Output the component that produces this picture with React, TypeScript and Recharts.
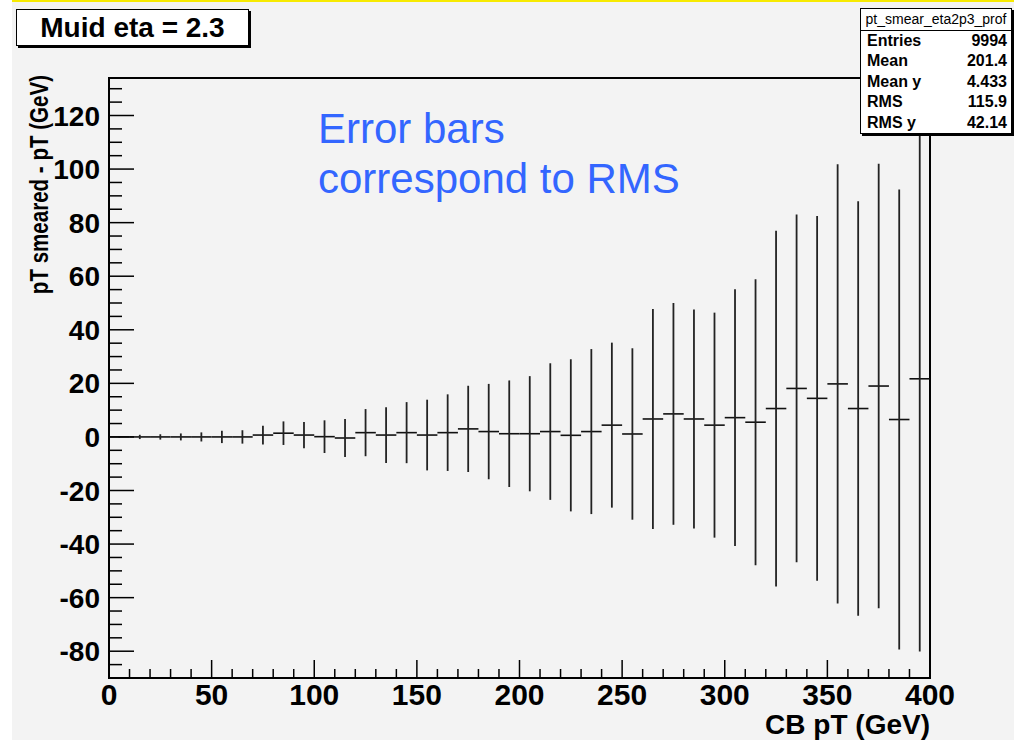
import { ComposedChart, Scatter, XAxis, YAxis, ErrorBar, ReferenceArea } from "recharts";

// profile bins: 40 bins of 10 GeV
const binCenters = [
  5, 15, 25, 35, 45, 55, 65, 75, 85, 95,
  105, 115, 125, 135, 145, 155, 165, 175, 185, 195,
  205, 215, 225, 235, 245, 255, 265, 275, 285, 295,
  305, 315, 325, 335, 345, 355, 365, 375, 385, 395,
];
const binMeans = [
  0, 0, 0, 0, 0, 0, 0, 0.7, 1.4, 0.7,
  0.1, -0.4, 1.6, 0.7, 1.6, 0.7, 1.6, 3.0, 2.0, 1.2,
  1.2, 2.0, 0.6, 2.0, 4.4, 1.1, 6.7, 8.6, 6.7, 4.4,
  7.2, 5.5, 10.6, 18.1, 14.4, 19.8, 10.6, 19.0, 6.5, 21.7,
];
const binRms = [
  0.3, 0.8, 1.0, 1.3, 1.7, 2.3, 2.5, 3.5, 4.4, 4.9,
  6.1, 7.1, 8.8, 10.4, 11.4, 13.2, 14.3, 16.1, 17.8, 19.9,
  21.5, 25.5, 28.4, 30.8, 30.8, 32.0, 41.1, 41.4, 40.9, 42.0,
  47.9, 53.4, 66.4, 64.9, 68.1, 82.0, 77.4, 83.0, 85.9, 101.8,
];
const binHalfWidth = 5;

const xTicks = [
  0, 10, 20, 30, 40, 50, 60, 70, 80, 90, 100, 110, 120, 130, 140, 150, 160, 170, 180, 190, 200,
  210, 220, 230, 240, 250, 260, 270, 280, 290, 300, 310, 320, 330, 340, 350, 360, 370, 380, 390, 400,
];
const xMajorTicks = [0, 50, 100, 150, 200, 250, 300, 350, 400];
const yTicks = [
  -85, -80, -75, -70, -65, -60, -55, -50, -45, -40, -35, -30, -25, -20, -15, -10, -5, 0,
  5, 10, 15, 20, 25, 30, 35, 40, 45, 50, 55, 60, 65, 70, 75, 80, 85, 90, 95, 100, 105, 110,
  115, 120, 125, 130,
];
const yMajorTicks = [-80, -60, -40, -20, 0, 20, 40, 60, 80, 100, 120];

const statsTitle = "pt_smear_eta2p3_prof";
const statsNames = ["Entries", "Mean", "Mean y", "RMS", "RMS y"];
const statsValues = ["9994", "201.4", "4.433", "115.9", "42.14"];

const font = '"Liberation Sans", Arial, Helvetica, sans-serif';

const data = binCenters.map((x, i) => ({
  x,
  mean: binMeans[i],
  rms: binRms[i],
  hw: binHalfWidth,
}));

function YTick(props: any) {
  const { x, y, payload } = props;
  const major = yMajorTicks.includes(payload.value);
  return (
    <g>
      <line x1={x} y1={y} x2={x + (major ? 25 : 13)} y2={y} stroke="#000" strokeWidth={1.5} />
      {major && (
        <text x={x - 9} y={y} dy={10} textAnchor="end" fontFamily={font} fontWeight="bold" fontSize={28} fill="#000">
          {payload.value}
        </text>
      )}
    </g>
  );
}

function XTick(props: any) {
  const { x, y, payload } = props;
  const major = xMajorTicks.includes(payload.value);
  return (
    <g>
      <line x1={x} y1={y} x2={x} y2={y - (major ? 18 : 9)} stroke="#000" strokeWidth={1.5} />
      {major && (
        <text x={x} y={y} dy={27} textAnchor="middle" fontFamily={font} fontWeight="bold" fontSize={30} fill="#000">
          {payload.value}
        </text>
      )}
    </g>
  );
}

export default function App() {
  return (
    <div style={{ position: "absolute", left: 0, top: 0, width: 1014, height: 740, background: "#fff", overflow: "hidden", fontFamily: font }}>
      <div style={{ position: "absolute", left: 12, top: 0, width: 1002, height: 2, background: "#f7ea00" }} />
      <div style={{ position: "absolute", left: 12, top: 2, width: 1002, height: 738, background: "#f3f3f3" }} />

      <div style={{ position: "absolute", left: 0, top: 0 }}>
        <ComposedChart width={1014} height={740} data={data} margin={{ top: 78, right: 84, bottom: 22, left: 9 }}>
          <XAxis
            type="number"
            dataKey="x"
            domain={[0, 400]}
            allowDataOverflow
            ticks={xTicks}
            interval={0}
            tickLine={false}
            axisLine={false}
            tickSize={0}
            tickMargin={0}
            height={40}
            tick={<XTick />}
          />
          <YAxis
            type="number"
            dataKey="mean"
            domain={[-90, 134]}
            allowDataOverflow
            ticks={yTicks}
            interval={0}
            tickLine={false}
            axisLine={false}
            tickSize={0}
            tickMargin={0}
            width={100}
            tick={<YTick />}
          />
          <ReferenceArea x1={0} x2={400} y1={-90} y2={134} fill="none" stroke="#000" strokeWidth={2} ifOverflow="visible" />
          <Scatter data={data} dataKey="mean" isAnimationActive={false} shape={() => <g />}>
            <ErrorBar dataKey="hw" direction="x" width={0} stroke="#111" strokeWidth={1.6} isAnimationActive={false} />
            <ErrorBar dataKey="rms" direction="y" width={0} stroke="#222" strokeWidth={1.8} isAnimationActive={false} />
          </Scatter>
        </ComposedChart>
      </div>

      {/* axis titles */}
      <div style={{ position: "absolute", left: 0, top: 711, width: 930, textAlign: "right", fontSize: 28, lineHeight: "28px", fontWeight: "bold", whiteSpace: "nowrap" }}>
        CB pT (GeV)
      </div>
      <div style={{ position: "absolute", left: 39, top: 75, width: 0, height: 0 }}>
        <div style={{ position: "absolute", right: 0, top: 0, transformOrigin: "right top", transform: "rotate(-90deg) translateY(-15px) scaleX(0.79)", fontSize: 26, fontWeight: "bold", whiteSpace: "nowrap", lineHeight: "30px" }}>
          pT smeared - pT (GeV)
        </div>
      </div>

      {/* annotation */}
      <div style={{ position: "absolute", left: 318, top: 104, color: "#3366ff", fontSize: 42, lineHeight: "50px", whiteSpace: "nowrap" }}>
        Error bars
        <br />
        correspond to RMS
      </div>

      {/* title box */}
      <div style={{ position: "absolute", left: 16, top: 9, width: 231, height: 35, border: "1px solid #000", boxShadow: "2px 2px 0 #000", background: "#fff", fontSize: 28, fontWeight: "bold", lineHeight: "35px", textAlign: "center", whiteSpace: "nowrap" }}>
        Muid eta = 2.3
      </div>

      {/* stats box */}
      <div style={{ position: "absolute", left: 860, top: 8, width: 150, height: 124, border: "1px solid #000", boxShadow: "2px 2px 0 #000", background: "#fff" }}>
        <div style={{ height: 21, borderBottom: "1px solid #000", fontSize: 14, lineHeight: "21px", textAlign: "center", whiteSpace: "nowrap" }}>{statsTitle}</div>
        {statsNames.map((n, i) => (
          <div key={n} style={{ display: "flex", justifyContent: "space-between", height: 20.4, lineHeight: "20.4px", padding: "0 4px 0 6px", fontSize: 16, fontWeight: "bold" }}>
            <span>{n}</span>
            <span>{statsValues[i]}</span>
          </div>
        ))}
      </div>
    </div>
  );
}
